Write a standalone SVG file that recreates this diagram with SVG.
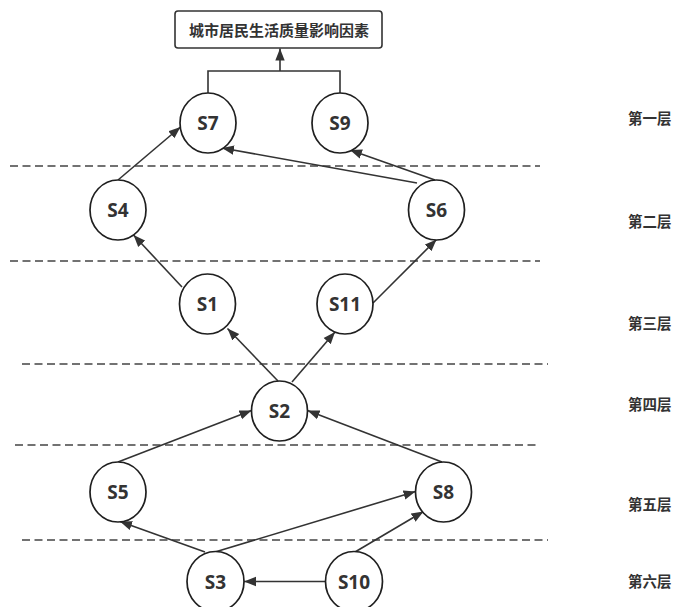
<svg xmlns="http://www.w3.org/2000/svg" width="676" height="607" viewBox="0 0 676 607">
<style>
.node ellipse{fill:#fff;stroke:#1f1f1f;stroke-width:1.7}
.node text{font-family:"Open Sans","DejaVu Sans",sans-serif;font-weight:bold;font-size:19px;fill:#333;text-anchor:middle;dominant-baseline:central}
.edge{fill:none;stroke:#333;stroke-width:1.6}
.arr{marker-end:url(#ah)}
.dash{stroke:#444;stroke-width:1.6;stroke-dasharray:8 4.5}
.layer{font-family:"Noto Sans CJK SC","Noto Sans",sans-serif;font-weight:bold;font-size:14.5px;fill:#333;dominant-baseline:central}
.title{font-family:"Noto Sans CJK SC","Noto Sans",sans-serif;font-weight:bold;font-size:15px;fill:#333;text-anchor:middle;dominant-baseline:central}
</style>
<defs>
<marker id="ah" markerUnits="userSpaceOnUse" markerWidth="13" markerHeight="11" refX="12" refY="5.5" orient="auto">
<path d="M0,0.8 L12,5.5 L0,10.2 Z" fill="#333"/>
</marker>
</defs>
<rect width="676" height="607" fill="#fff"/>
<g id="dashed-lines">
<line class="dash" x1="10" y1="166" x2="540" y2="166"/>
<line class="dash" x1="10" y1="261" x2="540" y2="261"/>
<line class="dash" x1="22" y1="364" x2="548" y2="364"/>
<line class="dash" x1="15" y1="445" x2="540" y2="445"/>
<line class="dash" x1="22" y1="540" x2="548" y2="540"/>
</g>
<g id="layer-labels">
<text class="layer" x="628" y="117">第一层</text>
<text class="layer" x="628" y="220">第二层</text>
<text class="layer" x="628" y="322">第三层</text>
<text class="layer" x="628" y="403">第四层</text>
<text class="layer" x="628" y="503">第五层</text>
<text class="layer" x="628" y="580">第六层</text>
</g>
<g id="connectors">
<path class="edge" d="M208,93 V71 H340 V93"/>
<line class="edge arr" x1="280" y1="71" x2="280" y2="48.5"/>
<line class="edge arr" x1="118" y1="180" x2="180.5" y2="127"/>
<line class="edge arr" x1="417" y1="183" x2="222" y2="148"/>
<line class="edge arr" x1="435" y1="180" x2="350" y2="150"/>
<line class="edge arr" x1="182" y1="287" x2="133.5" y2="235"/>
<line class="edge arr" x1="373" y1="303" x2="436.5" y2="239.5"/>
<line class="edge arr" x1="278" y1="381" x2="227.5" y2="328.5"/>
<line class="edge arr" x1="292" y1="382" x2="335" y2="332"/>
<line class="edge arr" x1="118" y1="462" x2="251.5" y2="410.5"/>
<line class="edge arr" x1="442" y1="462" x2="307.5" y2="410.5"/>
<line class="edge arr" x1="205" y1="552" x2="120" y2="521.5"/>
<line class="edge arr" x1="215" y1="552" x2="415.5" y2="491.5"/>
<line class="edge arr" x1="355" y1="552" x2="423.5" y2="511.5"/>
<line class="edge arr" x1="326" y1="581.5" x2="244" y2="581.5"/>
</g>
<g id="title">
<rect x="175" y="11" width="207" height="37" rx="3" fill="#fff" stroke="#333" stroke-width="1.6"/>
<text class="title" x="279" y="29.5">城市居民生活质量影响因素</text>
</g>
<g id="S7" class="node"><ellipse cx="208" cy="123" rx="28" ry="30"/><text x="208" y="123">S7</text></g>
<g id="S9" class="node"><ellipse cx="340" cy="123" rx="28" ry="30"/><text x="340" y="123">S9</text></g>
<g id="S4" class="node"><ellipse cx="118" cy="210" rx="28" ry="30"/><text x="118" y="210">S4</text></g>
<g id="S6" class="node"><ellipse cx="436.5" cy="210" rx="28" ry="30"/><text x="436.5" y="210">S6</text></g>
<g id="S1" class="node"><ellipse cx="207.5" cy="304" rx="28" ry="30"/><text x="207.5" y="304">S1</text></g>
<g id="S11" class="node"><ellipse cx="345" cy="304" rx="28" ry="30"/><text x="345" y="304">S11</text></g>
<g id="S2" class="node"><ellipse cx="279.5" cy="411" rx="28" ry="30"/><text x="279.5" y="411">S2</text></g>
<g id="S5" class="node"><ellipse cx="118" cy="492" rx="28" ry="30"/><text x="118" y="492">S5</text></g>
<g id="S8" class="node"><ellipse cx="443.5" cy="492" rx="28" ry="30"/><text x="443.5" y="492">S8</text></g>
<g id="S3" class="node"><ellipse cx="215.5" cy="581.5" rx="28.5" ry="30"/><text x="215.5" y="581.5">S3</text></g>
<g id="S10" class="node"><ellipse cx="354" cy="581.5" rx="28.5" ry="30"/><text x="354" y="581.5">S10</text></g>
</svg>
